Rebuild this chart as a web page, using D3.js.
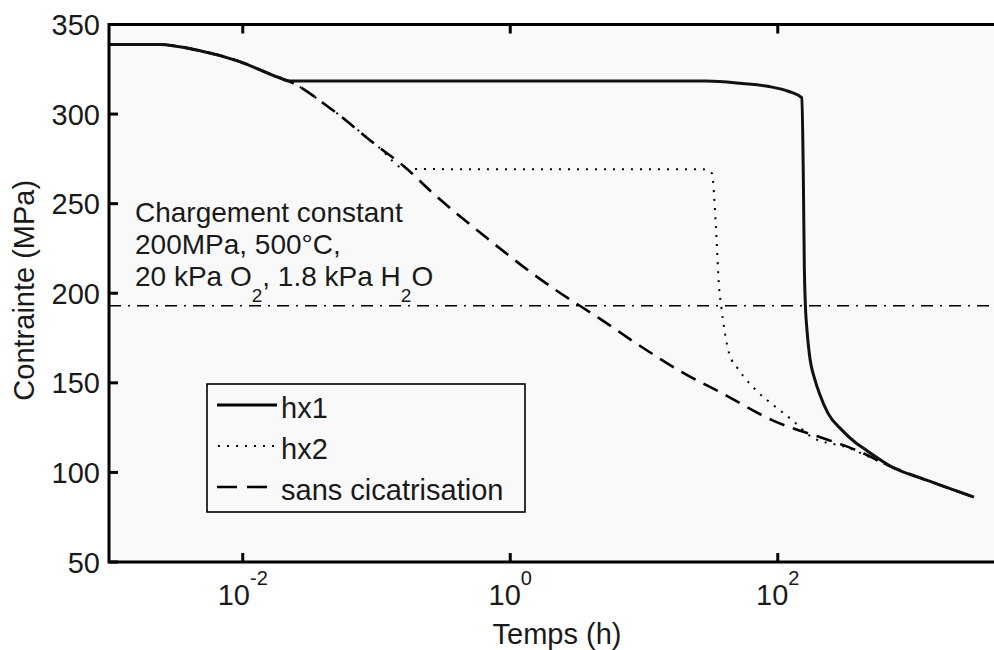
<!DOCTYPE html>
<html>
<head>
<meta charset="utf-8">
<script src="https://cdn.jsdelivr.net/npm/d3@7"></script>
<style>
  html, body { margin: 0; padding: 0; background: #ffffff; }
  svg { display: block; font-family: "Liberation Sans", Arial, Helvetica, sans-serif; }
</style>
</head>
<body>
<svg id="chart" width="994" height="650"></svg>
<script>
// ---- data (time in hours, stress in MPa) ----
const sansTime   = [0.001, 0.00235, 0.0047, 0.0094, 0.0186, 0.0222, 0.0442, 0.1045, 0.161, 0.260, 0.659, 1.456, 2.20, 4.61, 9.18, 19.2, 38.3, 90.6, 241.5, 384.6, 714.5, 1282, 2931];
const sansStress = [338.9, 338.8, 335.5, 329.4, 320.4, 318.3, 303.7, 281.4, 270.8, 256.3, 231.2, 211.2, 201.7, 186.1, 171.0, 156.0, 144.2, 129.2, 118.0, 112.5, 103.0, 95.8, 86.2];

const hx1Time   = [0.001, 0.00235, 0.0047, 0.0094, 0.0186, 0.0222, 29.1, 54.1, 86.1, 121.3, 151.4, 155.0, 158.0, 161.0, 165.6, 172.0, 190.0, 204.7, 237.0, 302.0, 384.6, 457.0, 714.5, 1282, 2931];
const hx1Stress = [338.9, 338.8, 335.5, 329.4, 320.4, 318.5, 318.5, 317.1, 315.4, 312.6, 309.1, 270.0, 214.5, 192.8, 179.0, 166.5, 151.5, 144.2, 133.1, 123.6, 116.4, 112.5, 103.0, 95.8, 86.2];

const hx2Time   = [0.001, 0.00235, 0.0047, 0.0094, 0.0186, 0.0222, 0.0442, 0.1045, 0.165, 27.2, 30.2, 32.2, 34.5, 36.4, 37.7, 43.3, 51.3, 68.7, 97.0, 128.0, 180.0, 324.0, 714.5, 1282, 2931];
const hx2Stress = [338.9, 338.8, 335.5, 329.4, 320.4, 318.3, 303.7, 281.4, 269.3, 269.2, 268.5, 266.9, 236.8, 203.4, 193.3, 166.5, 157.1, 145.9, 136.4, 129.2, 119.7, 114.1, 103.0, 95.8, 86.2];

const constantLoad = 193;
const xTickValues = [1e-2, 1e0, 1e2];
const xTickExps = ["-2", "0", "2"];
const yTickValues = [50, 100, 150, 200, 250, 300, 350];
const legendLabels = ["hx1", "hx2", "sans cicatrisation"];
const annotationLines = ["Chargement constant", "200MPa, 500°C,"];

(function () {
// ---- layout ----
const svg = d3.select("#chart");
const pl = 109, pr = 1005, pt = 24.5, pb = 562;
const ink = "#1a1a1a";
const x = d3.scaleLog().domain([1e-3, 5e3]).range([pl, pr]);
const y = d3.scaleLinear().domain([50, 350]).range([pb, pt]);

// plot background
svg.append("rect").attr("x", pl).attr("y", pt)
  .attr("width", pr - pl).attr("height", pb - pt)
  .attr("fill", "#f9f9f9");

// clip
svg.append("clipPath").attr("id", "clip").append("rect")
  .attr("x", pl).attr("y", pt).attr("width", pr - pl).attr("height", pb - pt);

const g = svg.append("g").attr("clip-path", "url(#clip)");

// constant load line (dash-dot)
g.append("line")
  .attr("x1", pl).attr("x2", pr)
  .attr("y1", y(constantLoad)).attr("y2", y(constantLoad))
  .attr("stroke", "#000").attr("stroke-width", 1.6)
  .attr("stroke-dasharray", "12,7,2,7");

const line = d3.line().x(d => x(d[0])).y(d => y(d[1])).curve(d3.curveMonotoneX);
const zip = (a, b) => a.map((v, i) => [v, b[i]]);

g.append("path").datum(zip(sansTime, sansStress))
  .attr("d", line).attr("fill", "none").attr("stroke", "#000")
  .attr("stroke-width", 2.6).attr("stroke-dasharray", "16,9");

g.append("path").datum(zip(hx2Time, hx2Stress))
  .attr("d", line).attr("fill", "none").attr("stroke", "#000")
  .attr("stroke-width", 2).attr("stroke-dasharray", "2,7");

g.append("path").datum(zip(hx1Time, hx1Stress))
  .attr("d", line).attr("fill", "none").attr("stroke", "#111")
  .attr("stroke-width", 3);

// axes box
const axisG = svg.append("g");
axisG.append("rect").attr("x", pl).attr("y", pt)
  .attr("width", pr - pl).attr("height", pb - pt)
  .attr("fill", "none").attr("stroke", "#000").attr("stroke-width", 3);

// ticks (inward)
const tl = 9;
yTickValues.forEach(v => {
  axisG.append("line").attr("x1", pl).attr("x2", pl + tl)
    .attr("y1", y(v)).attr("y2", y(v)).attr("stroke", "#000").attr("stroke-width", 3);
  axisG.append("line").attr("x1", pr).attr("x2", pr - tl)
    .attr("y1", y(v)).attr("y2", y(v)).attr("stroke", "#000").attr("stroke-width", 3);
  axisG.append("text").attr("x", 100).attr("y", y(v) + 10.5)
    .attr("text-anchor", "end").attr("font-size", 29).attr("fill", ink).text(v);
});
xTickValues.forEach((v, i) => {
  axisG.append("line").attr("x1", x(v)).attr("x2", x(v))
    .attr("y1", pb).attr("y2", pb - tl).attr("stroke", "#000").attr("stroke-width", 3);
  axisG.append("line").attr("x1", x(v)).attr("x2", x(v))
    .attr("y1", pt).attr("y2", pt + tl).attr("stroke", "#000").attr("stroke-width", 3);
  const t = axisG.append("text").attr("x", x(v)).attr("y", 605)
    .attr("text-anchor", "middle").attr("font-size", 29).attr("fill", ink);
  t.append("tspan").text("10");
  t.append("tspan").attr("font-size", 20).attr("dy", -20).text(xTickExps[i]);
});

// axis labels
svg.append("text").attr("x", (pl + pr) / 2).attr("y", 644)
  .attr("text-anchor", "middle").attr("font-size", 29).attr("fill", ink).text("Temps (h)");
svg.append("text").attr("transform", "translate(34," + ((pt + pb) / 2 - 3) + ") rotate(-90)")
  .attr("text-anchor", "middle").attr("font-size", 29).attr("fill", ink).text("Contrainte (MPa)");

// annotation (three lines)
const annFont = 28;
svg.append("text").attr("x", 135).attr("y", 222).attr("font-size", annFont).attr("fill", ink).text(annotationLines[0]);
svg.append("text").attr("x", 135).attr("y", 254).attr("font-size", annFont).attr("fill", ink).text(annotationLines[1]);
const t3 = svg.append("text").attr("x", 135).attr("y", 286).attr("font-size", annFont).attr("fill", ink);
t3.append("tspan").text("20 kPa O");
t3.append("tspan").attr("font-size", 19).attr("dy", 16).text("2");
t3.append("tspan").attr("dy", -16).text(", 1.8 kPa H");
t3.append("tspan").attr("font-size", 19).attr("dy", 16).text("2");
t3.append("tspan").attr("dy", -16).text("O");

// legend
const lg = svg.append("g");
lg.append("rect").attr("x", 207).attr("y", 384).attr("width", 318).attr("height", 128)
  .attr("fill", "#f9f9f9").attr("stroke", "#000").attr("stroke-width", 1.6);
const legendStyles = [
  { w: 3, dash: null, x1: 217, x2: 277 },
  { w: 2, dash: "2,7", x1: 218, x2: 277 },
  { w: 2.6, dash: "20,10", x1: 217, x2: 270 }
];
legendLabels.forEach((lab, i) => {
  const yy = 405 + i * 41;
  const s = legendStyles[i];
  const l = lg.append("line").attr("x1", s.x1).attr("x2", s.x2).attr("y1", yy).attr("y2", yy)
    .attr("stroke", "#000").attr("stroke-width", s.w);
  if (s.dash) l.attr("stroke-dasharray", s.dash);
  lg.append("text").attr("x", 281).attr("y", yy + 13).attr("font-size", 29).attr("fill", ink).text(lab);
});
})();
</script>
</body>
</html>
